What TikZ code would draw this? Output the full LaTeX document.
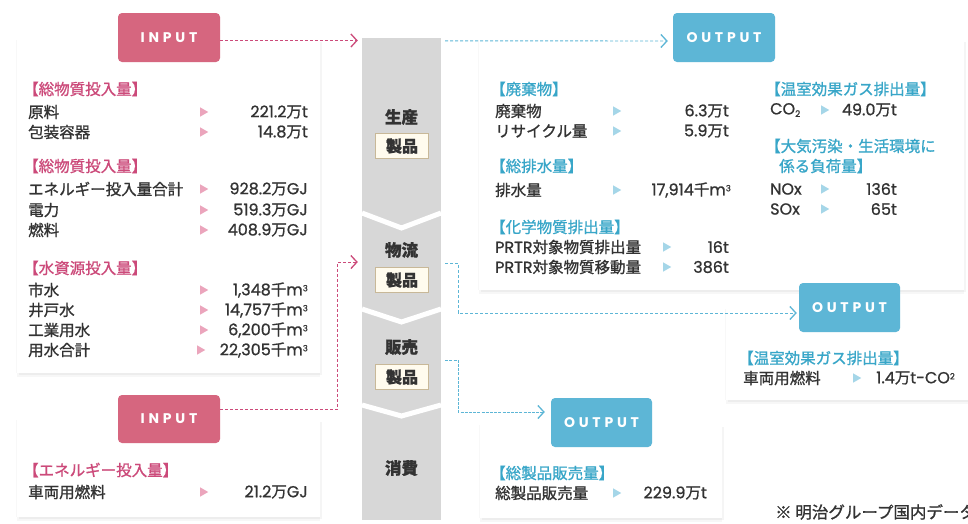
\documentclass[tikz,border=0pt]{standalone}
\usepackage{fontspec}
\setmainfont{Noto Sans CJK JP}[FakeBold=1.1]
\newfontfamily\latn{Poppins}[FakeBold=0.9]
\newfontfamily\tagfont{Poppins}[LetterSpace=27]
\usetikzlibrary{arrows.meta,shadows,calc}
\definecolor{pinktag}{HTML}{D6667F}
\definecolor{pinkhd}{HTML}{CC4A7A}
\definecolor{pinktri}{HTML}{EBA5BC}
\definecolor{bluetag}{HTML}{5DB6D6}
\definecolor{bluehd}{HTML}{38A6C8}
\definecolor{bluetri}{HTML}{A5D6E8}
\definecolor{txt}{HTML}{333333}
\definecolor{colgray}{HTML}{D7D7D7}
\definecolor{seifill}{HTML}{FFFBEE}
\definecolor{seiline}{HTML}{C8B898}
\tikzset{
  card/.style={draw=none, fill=white, inner sep=0,
    drop shadow={opacity=0.06, shadow xshift=0pt, shadow yshift=-4pt},
    drop shadow={opacity=0.08, shadow xshift=1.5pt, shadow yshift=-2pt},
    drop shadow={opacity=0.05, shadow xshift=-1pt, shadow yshift=0pt}},
  tagbox/.style={rounded corners=4pt, inner sep=0, text=white,
    font=\tagfont\bfseries\fontsize{14}{16}\selectfont},
  pinktagbox/.style={tagbox, fill=pinktag},
  bluetagbox/.style={tagbox, fill=bluetag},
  lbl/.style={anchor=west, inner sep=0, text=txt, font=\fontsize{15.5}{17}\selectfont},
  val/.style={anchor=east, inner sep=0, text=txt, font=\fontsize{15.5}{17}\selectfont},
  hdp/.style={anchor=west, inner sep=0, text=pinkhd, font=\fontsize{15.5}{17}\selectfont, xshift=-5pt},
  hdb/.style={anchor=west, inner sep=0, text=bluehd, font=\fontsize{15.5}{17}\selectfont, xshift=-5pt},
  stage/.style={inner sep=0, text=txt, font=\bfseries\fontsize{16.5}{18}\selectfont},
  seihin/.style={draw=seiline, line width=0.6pt, fill=seifill, inner sep=0,
    minimum width=53pt, minimum height=25pt, text=txt, font=\bfseries\fontsize{16}{18}\selectfont},
  pinkarrow/.style={draw=pinkhd, line width=0.9pt, dash pattern=on 3pt off 2pt,
    -{Straight Barb[length=6pt,width=13pt,line width=1.3pt]}},
  bluearrow/.style={draw=bluetag, line width=0.9pt, dash pattern=on 3pt off 2pt,
    -{Straight Barb[length=6pt,width=13pt,line width=1.3pt]}},
  chev/.style={draw=white, line width=5pt, line join=miter},
}
% #1 name #2 y #3 label x #4 label #5 tri x #6 value right x #7 value #8 tri colour
\newcommand{\itemrow}[8]{%
  \node[lbl] (#1l) at (#3,#2) {#4};
  \fill[#8] (#5-3.8,#2-4.6) -- (#5+4.2,#2) -- (#5-3.8,#2+4.6) -- cycle;
  \node[val] (#1v) at (#6,#2) {#7};
}
\newcommand{\La}[1]{{\latn\fontsize{16}{17}\selectfont #1}}
\newcommand{\msup}{\La{m}\raisebox{4pt}{\latn\fontsize{8.5}{8}\selectfont 3}}
\begin{document}
\begin{tikzpicture}[x=1pt,y=-1pt]
\useasboundingbox (0,0) rectangle (968,523);
\clip (0,0) rectangle (968,523);
\fill[white] (0,0) rectangle (968,523);

% ---------- cards ----------
\node[card, minimum width=303pt, minimum height=333pt] (in1) at (168.5,206.5) {};
\node[card, minimum width=303pt, minimum height=97pt] (in2) at (168.5,468.5) {};
\node[card, minimum width=485pt, minimum height=250pt] (out1) at (721.5,165) {};
\node[card, minimum width=249pt, minimum height=91pt] (out2) at (850.5,354.5) {};
\node[card, minimum width=242pt, minimum height=93pt] (out3) at (601,471.5) {};

% ---------- central column ----------
\node[fill=colgray, inner sep=0, minimum width=79pt, minimum height=482pt] (col) at (401.5,279) {};
\draw[chev] (362,213) -- (401.5,228) -- (441,213);
\draw[chev] (362,309) -- (401.5,322) -- (441,309);
\draw[chev] (362,405) -- (401.5,416) -- (441,405);
\node[stage] (s1) at (401.5,117) {生産};
\node[seihin] (p1) at (402,146) {製品};
\node[stage] (s2) at (401.5,250) {物流};
\node[seihin] (p2) at (402,280) {製品};
\node[stage] (s3) at (401.5,347) {販売};
\node[seihin] (p3) at (402,377) {製品};
\node[stage] (s4) at (401.5,468) {消費};

% ---------- tags ----------
\node[pinktagbox, minimum width=102pt, minimum height=49pt] (t1) at (169,37.5) {INPUT};
\node[pinktagbox, minimum width=102pt, minimum height=48pt] (t2) at (169,419) {INPUT};
\node[bluetagbox, minimum width=102pt, minimum height=49pt] (t3) at (724,37.5) {OUTPUT};
\node[bluetagbox, minimum width=101pt, minimum height=49pt] (t4) at (849.5,307.5) {OUTPUT};
\node[bluetagbox, minimum width=101pt, minimum height=49pt] (t5) at (601.5,422.5) {OUTPUT};

% ---------- connectors ----------
\draw[pinkarrow] ($(t1.east)+(0,3)$) -- ($(col.west |- t1.east)+(-4,3)$);
\coordinate (pk2turn) at ($(col.west)+(-24,0)$);
\coordinate (pk2end) at ($(col.west |- s2.south)+(-4,4)$);
\draw[pinkarrow] ($(t2.east)+(0,-10)$) -| (pk2turn |- pk2end) -- (pk2end);
\draw[bluearrow] ($(col.north east)+(4,3)$) -- ($(t3.west)+(-5,3.5)$);
\coordinate (b2s) at ($(col.east |- s2.south)+(4,5)$);
\draw[bluearrow] (b2s) -- ++(13,0) |- ($(t4.west)+(-2,5.5)$);
\coordinate (b3s) at ($(col.east |- p3.north)+(4,-4)$);
\draw[bluearrow, dash pattern=on 3pt off 1.2pt] (b3s) -- ++(13,0) |- ($(t5.west)+(-6,-10.5)$);

% ---------- INPUT 1 ----------
\node[hdp] (h1) at (28,89) {【総物質投入量】};
\itemrow{a1}{112}{28}{原料}{204}{308}{\La{221.2}万\La{t}}{pinktri}
\itemrow{a2}{132}{28}{包装容器}{204}{308}{\La{14.8}万\La{t}}{pinktri}
\node[hdp] (h2) at (28,166) {【総物質投入量】};
\itemrow{a3}{189}{28}{エネルギー投入量合計}{204}{308}{\La{928.2}万\La{GJ}}{pinktri}
\itemrow{a4}{210}{28}{電力}{204}{308}{\La{519.3}万\La{GJ}}{pinktri}
\itemrow{a5}{230}{28}{燃料}{204}{308}{\La{408.9}万\La{GJ}}{pinktri}
\node[hdp] (h3) at (28,268) {【水資源投入量】};
\itemrow{a6}{290}{28}{市水}{204}{308}{\La{1,348}千\msup}{pinktri}
\itemrow{a7}{310}{28}{井戸水}{204}{308}{\La{14,757}千\msup}{pinktri}
\itemrow{a8}{330}{28}{工業用水}{204}{308}{\La{6,200}千\msup}{pinktri}
\itemrow{a9}{350}{28}{用水合計}{201}{308}{\La{22,305}千\msup}{pinktri}

% ---------- INPUT 2 ----------
\node[hdp] (h4) at (28,470) {【エネルギー投入量】};
\itemrow{b1}{492}{28}{車両用燃料}{204}{308}{\La{21.2}万\La{GJ}}{pinktri}

% ---------- OUTPUT 1 ----------
\node[hdb] (h5) at (495,89) {【廃棄物】};
\itemrow{c1}{111}{495}{廃棄物}{617}{729}{\La{6.3}万\La{t}}{bluetri}
\itemrow{c2}{131}{495}{リサイクル量}{617}{729}{\La{5.9}万\La{t}}{bluetri}
\node[hdb] (h6) at (495,166) {【総排水量】};
\itemrow{c3}{190}{495}{排水量}{617}{731}{\La{17,914}千\msup}{bluetri}
\node[hdb] (h7) at (495,227) {【化学物質排出量】};
\itemrow{c4}{247}{495}{\La{PRTR}対象物質排出量}{667}{729}{\La{16t}}{bluetri}
\itemrow{c5}{267}{495}{\La{PRTR}対象物質移動量}{667}{729}{\La{386t}}{bluetri}

\node[hdb] (h8) at (770,89) {【温室効果ガス排出量】};
\itemrow{d1}{110}{770}{\La{CO}\raisebox{-2.5pt}{\latn\fontsize{9}{9}\selectfont 2}}{825}{897}{\La{49.0}万\La{t}}{bluetri}
\node[hdb] (h9) at (770,146) {【大気汚染・生活環境に};
\node[hdb, xshift=5pt] (h10) at (779,166) {係る負荷量】};
\itemrow{d2}{189}{770}{\La{NOx}}{825}{897}{\La{136t}}{bluetri}
\itemrow{d3}{209}{770}{\La{SOx}}{825}{897}{\La{65t}}{bluetri}

% ---------- OUTPUT 2 ----------
\node[hdb] (h11) at (743,358) {【温室効果ガス排出量】};
\itemrow{e1}{378}{743}{車両用燃料}{857}{955}{\La{1.4}万\La{t-CO}\raisebox{4pt}{\latn\fontsize{8.5}{8}\selectfont 2}}{bluetri}

% ---------- OUTPUT 3 ----------
\node[hdb] (h12) at (495,473) {【総製品販売量】};
\itemrow{f1}{493}{495}{総製品販売量}{617}{707}{\La{229.9}万\La{t}}{bluetri}

% ---------- footnote ----------
\node[lbl, font=\fontsize{16.5}{18}\selectfont] (note) at (775,512) {※ 明治グループ国内データ};
\end{tikzpicture}
\end{document}
